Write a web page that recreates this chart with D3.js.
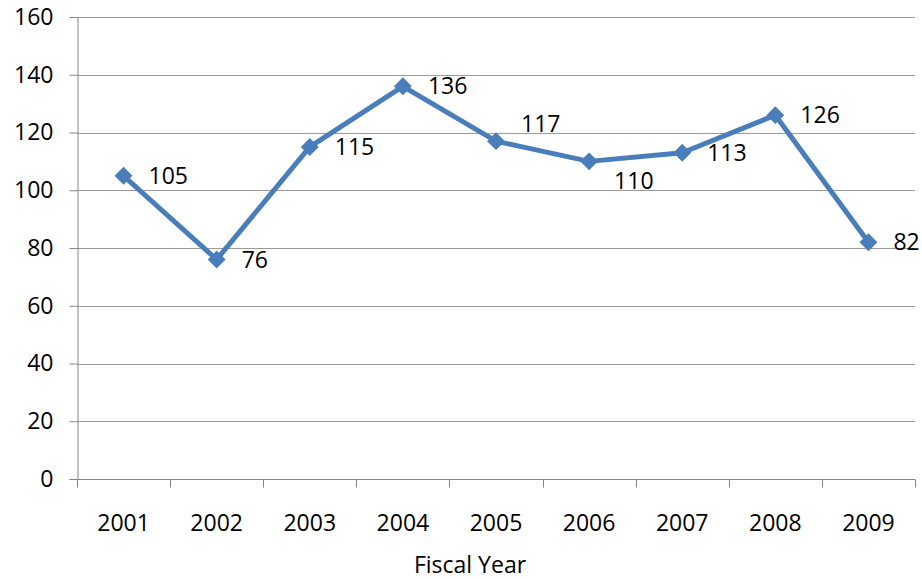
<!DOCTYPE html>
<html>
<head>
<meta charset="utf-8">
<script src="https://cdn.jsdelivr.net/npm/d3@7"></script>
<style>
  html, body { margin: 0; padding: 0; background: #fff; }
  svg { display: block; }
  text { font-family: "Open Sans", sans-serif; fill: #000; }
</style>
</head>
<body>
<svg id="chart" width="922" height="579"></svg>
<script>
// ---- data ----
const years = ["2001", "2002", "2003", "2004", "2005", "2006", "2007", "2008", "2009"];
const values = [105, 76, 115, 136, 117, 110, 113, 126, 82];
const yTicks = [0, 20, 40, 60, 80, 100, 120, 140, 160];
const xTitle = "Fiscal Year";
// label vertical nudges (layout only), in px
const labelDy = [0, 0, 0, 0, -17, 20, 0, 0, 0];

// ---- layout ----
const W = 922, H = 579;
const FS = 23;
const m = { left: 77, right: 7, top: 17, bottom: 100 };
const svg = d3.select("#chart");
const x = d3.scaleBand().domain(years).range([m.left, W - m.right]);
const y = d3.scaleLinear().domain([0, 160]).range([H - m.bottom, m.top]);

const axisColor = "#868686";
const gridColor = "#9a9a9a";
const lineColor = "#4A7EBB";

// gridlines
svg.append("g").selectAll("line").data(yTicks.filter(d => d > 0)).join("line")
  .attr("x1", m.left).attr("x2", W - m.right)
  .attr("y1", d => Math.round(y(d)) + 0.5).attr("y2", d => Math.round(y(d)) + 0.5)
  .attr("stroke", gridColor).attr("stroke-width", 1);

// y axis
const yAxis = svg.append("g").attr("transform", `translate(${m.left + 0.5},0)`)
  .call(d3.axisLeft(y).tickValues(yTicks).tickSize(8).tickPadding(16));
yAxis.select(".domain").attr("stroke", axisColor);
yAxis.selectAll(".tick line").attr("stroke", axisColor);
yAxis.selectAll(".tick text").attr("font-size", FS).attr("font-family", "Open Sans").attr("fill", "#000");

// x axis with ticks at band boundaries
const xAxisG = svg.append("g").attr("transform", `translate(0,${Math.round(y(0)) + 0.5})`);
xAxisG.append("line").attr("x1", m.left).attr("x2", W - m.right).attr("stroke", axisColor);
const bounds = years.map(d => x(d)).concat([x(years[years.length - 1]) + x.bandwidth()]);
xAxisG.selectAll("line.tk").data(bounds).join("line").attr("class", "tk")
  .attr("x1", d => Math.round(d) + 0.5).attr("x2", d => Math.round(d) + 0.5)
  .attr("y1", 0).attr("y2", 8).attr("stroke", axisColor);
xAxisG.selectAll("text").data(years).join("text")
  .attr("x", d => x(d) + x.bandwidth() / 2)
  .attr("y", 51)
  .attr("text-anchor", "middle")
  .attr("font-size", FS)
  .text(d => d);

// x title
svg.append("text").attr("x", 470).attr("y", 573)
  .attr("text-anchor", "middle").attr("font-size", FS).text(xTitle);

// line
const cx = d => x(d) + x.bandwidth() / 2;
const line = d3.line().x((d, i) => cx(years[i])).y(d => y(d));
svg.append("path").datum(values).attr("d", line)
  .attr("fill", "none").attr("stroke", lineColor).attr("stroke-width", 5)
  .attr("stroke-linejoin", "round");

// markers
svg.append("g").selectAll("path").data(values).join("path")
  .attr("d", d3.symbol().type(d3.symbolSquare).size(160))
  .attr("transform", (d, i) => `translate(${cx(years[i])},${y(d)}) rotate(45)`)
  .attr("fill", lineColor);

// data labels
svg.append("g").selectAll("text").data(values).join("text")
  .attr("x", (d, i) => cx(years[i]) + 25)
  .attr("y", (d, i) => y(d) + labelDy[i])
  .attr("dy", "0.35em")
  .attr("font-size", FS)
  .text(d => d);
</script>
</body>
</html>
